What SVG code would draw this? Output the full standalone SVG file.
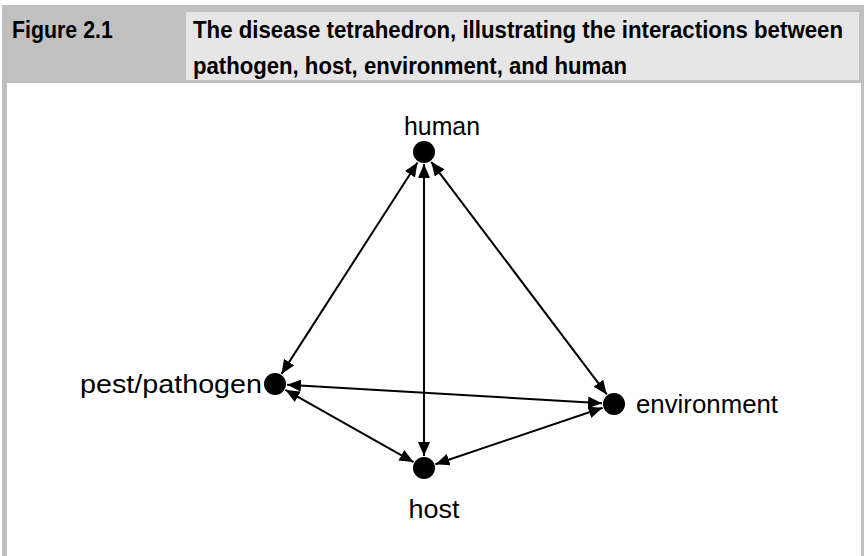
<svg xmlns="http://www.w3.org/2000/svg" width="864" height="556" viewBox="0 0 864 556">
<style>
.hdr{font-family:"Liberation Sans",Arial,sans-serif;font-weight:bold;font-size:24px;fill:#000}
.lbl{font-family:"Liberation Sans",Arial,sans-serif;font-size:26px;fill:#000}
.edge{stroke:#000;stroke-width:2;fill:none;marker-start:url(#ah);marker-end:url(#ah)}
.dot{fill:#000}
</style>
<defs>
<marker id="ah" markerUnits="userSpaceOnUse" markerWidth="14" markerHeight="12" refX="14" refY="6" orient="auto-start-reverse">
<path d="M0,0 L14,6 L0,12 z" fill="#000"/>
</marker>
</defs>
<rect x="0" y="0" width="864" height="556" fill="#fff"/>
<rect x="2" y="5" width="862" height="551" fill="#c0c0c0"/>
<rect x="186" y="12" width="673" height="68" fill="#e6e6e6"/>
<rect x="7" y="83" width="854" height="473" fill="#fff"/>
<g id="caption">
<text class="hdr" transform="translate(12,38) scale(0.9,1)" x="0" y="0" textLength="112" lengthAdjust="spacingAndGlyphs">Figure 2.1</text>
<text class="hdr" transform="translate(193,38) scale(0.8,1)" x="0" y="0" textLength="812.5" lengthAdjust="spacingAndGlyphs">The disease tetrahedron, illustrating the interactions between</text>
<text class="hdr" transform="translate(193,74) scale(0.85,1)" x="0" y="0" textLength="510.6" lengthAdjust="spacingAndGlyphs">pathogen, host, environment, and human</text>
</g>
<g id="connectors">
<line class="edge" x1="417.5" y1="162.5" x2="281.5" y2="373.9"/>
<line class="edge" x1="424" y1="164" x2="424" y2="456"/>
<line class="edge" x1="431.2" y1="161.8" x2="606.8" y2="394.4"/>
<line class="edge" x1="287" y1="384.7" x2="602" y2="403.3"/>
<line class="edge" x1="285.5" y1="389.9" x2="413.5" y2="462.1"/>
<line class="edge" x1="435.4" y1="464.2" x2="602.6" y2="407.8"/>
</g>
<g id="human">
<circle class="dot" cx="424" cy="152" r="11"/>
<text class="lbl" x="442" y="135" text-anchor="middle" textLength="76" lengthAdjust="spacingAndGlyphs">human</text>
</g>
<g id="pest-pathogen">
<circle class="dot" cx="275" cy="384" r="11"/>
<text class="lbl" x="80" y="393" textLength="182" lengthAdjust="spacingAndGlyphs">pest/pathogen</text>
</g>
<g id="environment">
<circle class="dot" cx="614" cy="404" r="11"/>
<text class="lbl" x="636" y="413" textLength="142" lengthAdjust="spacingAndGlyphs">environment</text>
</g>
<g id="host">
<circle class="dot" cx="424" cy="468" r="11"/>
<text class="lbl" x="434" y="518" text-anchor="middle" textLength="51" lengthAdjust="spacingAndGlyphs">host</text>
</g>
</svg>
